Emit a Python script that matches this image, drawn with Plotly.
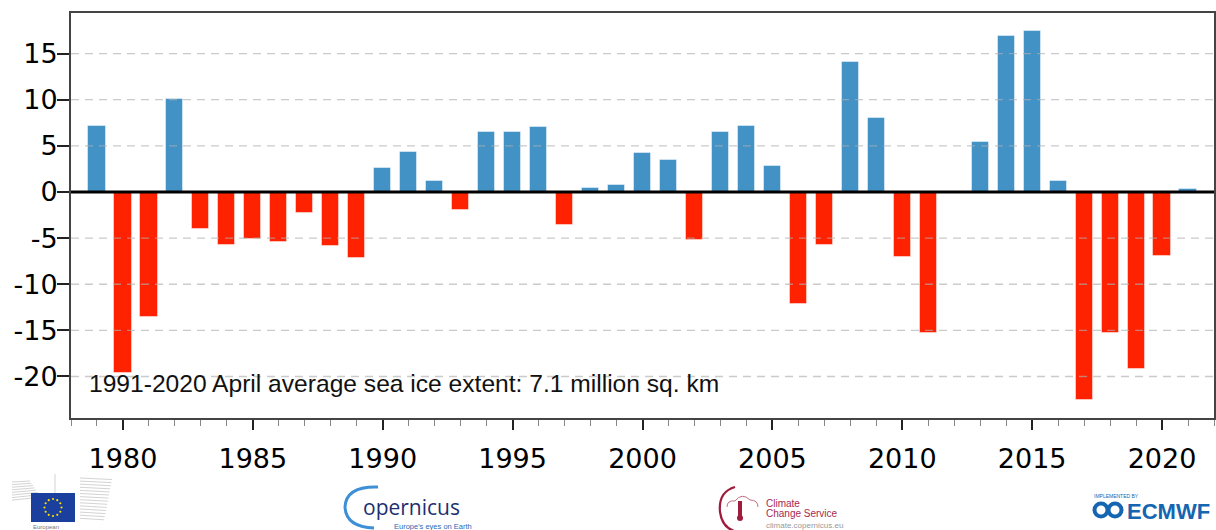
import math
import plotly.graph_objects as go

# ---------------- data ----------------
years = list(range(1979, 2022))
anomaly = [7.2, -19.6, -13.5, 10.1, -4.0, -5.7, -5.1, -5.4, -2.3, -5.9,
           -7.2, 2.6, 4.3, 1.2, -1.9, 6.5, 6.5, 7.0, -3.6, 0.4,
           0.8, 4.2, 3.5, -5.2, 6.5, 7.2, 2.8, -12.1, -5.8, 14.1,
           8.0, -7.1, -15.3, 0.0, 5.4, 16.9, 17.4, 1.2, -22.6, -15.3,
           -19.2, -6.9, 0.3]
y_ticks = [-20, -15, -10, -5, 0, 5, 10, 15]
y_tick_text = [str(v) for v in y_ticks]
note = "1991-2020 April average sea ice extent: 7.1 million sq. km"

BLUE = "#4292c6"
RED = "#ff2200"
colors = [BLUE if v >= 0 else RED for v in anomaly]

W, H = 1216, 530
ML, MR, MT, MB = 71, 2, 13, 112
PW = W - ML - MR
PH = H - MT - MB


def px(x, y):
    """pixel -> paper coordinates"""
    return (x - ML) / PW, (H - MB - y) / PH


fig = go.Figure()
fig.add_trace(go.Bar(
    x=years, y=anomaly, width=0.66,
    marker=dict(color=colors, line=dict(color="rgba(255,255,255,0.45)", width=1)),
    showlegend=False, hoverinfo="x+y",
))

shapes = []
# dashed grid lines drawn above bars (semi transparent)
for v in y_ticks:
    if v == 0:
        continue
    shapes.append(dict(type="line", xref="paper", x0=0, x1=1, yref="y", y0=v, y1=v,
                       line=dict(color="rgba(175,175,175,0.65)", width=1.3, dash="8px,6px"),
                       layer="above"))
# thick zero line
shapes.append(dict(type="line", xref="paper", x0=0, x1=1, yref="y", y0=0, y1=0,
                   line=dict(color="black", width=3), layer="above"))


def rect(x0, y0, x1, y1, fill, line=None, lw=0):
    a = px(x0, y1)
    b = px(x1, y0)
    shapes.append(dict(type="rect", xref="paper", yref="paper",
                       x0=a[0], y0=a[1], x1=b[0], y1=b[1],
                       fillcolor=fill, line=dict(color=line or fill, width=lw), layer="above"))


def circle(cx, cy, r, fill=None, line=None, lw=0):
    a = px(cx - r, cy + r)
    b = px(cx + r, cy - r)
    shapes.append(dict(type="circle", xref="paper", yref="paper",
                       x0=a[0], y0=a[1], x1=b[0], y1=b[1],
                       fillcolor=fill or "rgba(0,0,0,0)",
                       line=dict(color=line or "rgba(0,0,0,0)", width=lw), layer="above"))


def seg(x0, y0, x1, y1, color, lw=1):
    a = px(x0, y0)
    b = px(x1, y1)
    shapes.append(dict(type="line", xref="paper", yref="paper",
                       x0=a[0], y0=a[1], x1=b[0], y1=b[1],
                       line=dict(color=color, width=lw), layer="above"))


def path(points, color, lw, fill=None):
    parts = []
    for cmd, pts in points:
        coords = " ".join("%f,%f" % px(x, y) for x, y in pts)
        parts.append(cmd + " " + coords)
    shapes.append(dict(type="path", xref="paper", yref="paper", path=" ".join(parts),
                       line=dict(color=color, width=lw),
                       fillcolor=fill or "rgba(0,0,0,0)", layer="above"))


# ---- European Commission logo ----
for i in range(8):
    yy = 482 + i * 2.6
    seg(12, yy, 30 + i * 1.5, yy - 1 - i * 0.3, "#c8c8c8", 0.8)
for i in range(14):
    yy = 478 + i * 3.1
    seg(80, yy, 112 - i * 0.6, yy + 1.5, "#c8c8c8", 0.8)
seg(55, 474, 55, 493, "#c8c8c8", 0.8)
rect(31, 493, 75, 522, "#1a3f9c")
for k in range(12):
    ang = 2 * math.pi * k / 12
    circle(53 + 8.5 * math.cos(ang), 507.5 + 8.5 * math.sin(ang), 1.1, fill="#ffdd00")

# ---- Copernicus logo ----
path([("M", [(378, 487)]), ("Q", [(346, 486), (345, 507)]), ("Q", [(346, 527), (374, 528)])],
     "#3d8fd8", 3)

# ---- Climate Change Service logo ----
path([("M", [(735, 487)]), ("Q", [(718, 492), (720, 512)]), ("Q", [(722, 527), (734, 531)])],
     "#a01c3c", 2.2)
path([("M", [(727, 507)]), ("Q", [(727, 500), (735, 501)]), ("Q", [(742, 492), (750, 500)]),
      ("Q", [(758, 500), (758, 507)])], "#c07080", 1)
rect(738, 501, 742, 517, "#a01c3c")
circle(740, 518, 3, fill="#a01c3c")

# ---- ECMWF logo ----
circle(1101, 510, 6.5, line="#1565b0", lw=4)
circle(1115, 510, 6.5, line="#1565b0", lw=4)


def label(text, x, y, size, color, family="Liberation Sans"):
    return dict(text=text, xref="paper", yref="paper", x=px(x, 0)[0], y=px(0, y)[1],
                xanchor="left", yanchor="middle", showarrow=False,
                font=dict(family=family, size=size, color=color))


annotations = [
    label(note, 87, 383, 24.6, "#111111"),
    label("opernicus", 361, 507, 21, "#1d2f6f", "Open Sans"),
    label("Europe's eyes on Earth", 392, 526.5, 7.5, "#2a6ab5"),
    label("Climate", 764, 503, 10, "#a5294f"),
    label("Change Service", 764, 513, 10, "#a5294f"),
    label("climate.copernicus.eu", 764, 525.5, 8, "#999999"),
    label("European", 31, 526.5, 6, "#777777"),
    label("IMPLEMENTED BY", 1092, 496, 5, "#1565b0"),
    label("<b>ECMWF</b>", 1125, 511, 22, "#1565b0"),
]

fig.update_layout(
    width=W, height=H,
    margin=dict(l=ML, r=MR, t=MT, b=MB, autoexpand=False),
    paper_bgcolor="white", plot_bgcolor="white",
    bargap=0, shapes=shapes, annotations=annotations,
    xaxis=dict(
        range=[1978, 2022], tick0=1980, dtick=5, automargin=False,
        showgrid=False, zeroline=False,
        showline=True, linecolor="#444444", linewidth=2, mirror=True,
        ticks="outside", ticklen=10, tickwidth=2, tickcolor="#222222",
        minor=dict(dtick=1, ticks="outside", ticklen=6, tickwidth=1, tickcolor="#888888"),
        tickfont=dict(family="DejaVu Sans", size=27, color="black"),
        ticklabelstandoff=6,
    ),
    yaxis=dict(
        range=[-24.5, 19.4], tickvals=y_ticks, ticktext=y_tick_text, automargin=False,
        showgrid=False, zeroline=False,
        showline=True, linecolor="#444444", linewidth=2, mirror=True,
        ticks="outside", ticklen=12, tickwidth=2, tickcolor="#222222",
        tickfont=dict(family="DejaVu Sans", size=27, color="black"),
        ticklabelstandoff=-6,
    ),
)

fig.write_html("out.html", config={"displayModeBar": False},
               post_script="document.body.style.margin='0';")
